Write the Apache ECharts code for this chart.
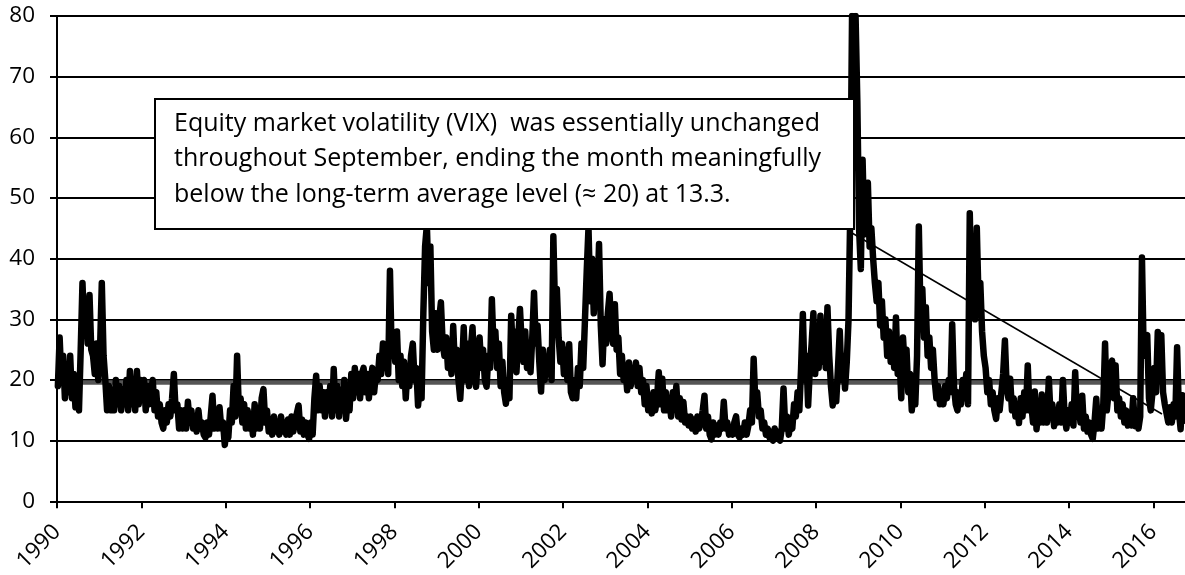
<!DOCTYPE html>
<html>
<head>
<meta charset="utf-8">
<script src="https://cdn.jsdelivr.net/npm/echarts@6/dist/echarts.min.js"></script>
<style>
  html, body { margin: 0; padding: 0; background: #fff; }
  #chart { width: 1185px; height: 575px; }
</style>
</head>
<body>
<div id="chart"></div>
<script>
// VIX: 24 readings per year (half-month steps)
const years = [1990,1991,1992,1993,1994,1995,1996,1997,1998,1999,2000,2001,2002,2003,2004,2005,2006,2007,2008,2009,2010,2011,2012,2013,2014,2015,2016];
const v1990 = [19,27,20,24,17,22,18,24,17,21,15.5,17,15,25,36,28,33,26,34,25,24,21,26,20];
const v1991 = [25,36,24,20,15,19,15,18,15,20,16,19,15,18,16,20,15,21.5,16,19,15,21.5,16,20];
const v1992 = [17,20,15,19,16,18,20,15,18,14,16,13,12,15,13,16,14,17,21,15,16,12,15,12];
const v1993 = [15,12,16.4,13,15,12,14,11.5,15,12,13,11,10.5,13,11,14,17.4,12,15,12,15.5,12,13,9.3];
const v1994 = [12,10.5,15,13,19,14,24,15,17,13,16,12,15,12,14,11,16,12,14,12,17,18.5,13,15];
const v1995 = [11.5,13.5,11,14,11.5,13,11,14,11.5,13,11,13.5,11,14,11.5,13,14.5,15.8,11.5,13.5,11,13,11,10.3];
const v1996 = [13,11,17,20.7,15,19,15,18,14,18,15,19,14,21.8,15,19,14,18,15,20,13.6,17,15,21];
const v1997 = [17,22,18,21,17,21,22,18,21,17,20,22,18,21,20,24,21,26,22,25,21,38,24,27];
const v1998 = [23,28,20,24,19,23,17,22,19,24,26,20,22,15.8,19,17,31,42,45.5,36,42,28,25,31];
const v1999 = [25,30,32.8,26,24,27,22,26,21,28.9,22,25,20,16.9,22,28.7,20,26,19,25,28.7,21,18.9,24];
const v2000 = [27,22,25,20,18.9,24,22,33.3,25,28,22,26,19,23,18,16.1,20,17,30.6,24,28,21.3,27,31.7];
const v2001 = [26,23,28,22,26,21.3,27,34.4,26,29,23,18.1,25,20,23,21,25,20,43.7,31,35,27,23,26];
const v2002 = [21,25,20,25.9,18,17,20,17,22,19,26,22,30,38,45.1,33,40,31,37,33,42.4,29,22.6,30];
const v2003 = [26,31,34.2,28,26,32.5,25,27,21,24,20,22,18.3,22.9,19,22,20,22.9,19,22,18,20,16,19];
const v2004 = [15,17,14.5,18,15,17,21.3,16,20.2,15,18,15,17,14,18,16,19,14,17,13.5,16.4,13,14,12.5];
const v2005 = [14,12,13.5,11.5,14,12,13,15,17.4,12,14,11,10.2,13,11,12.5,11,13,12,16.4,12,13,11,12];
const v2006 = [11,13,14,11,10.5,12,11,13,11,12.5,15,13,23.5,16,18,14,15,12,13,11,12,10.5,11.5,10];
const v2007 = [12,10.5,11.5,10,12,18.6,12,14,11,13,12,16,14,18,15,22,30.9,20,24,15.8,22,26,31,21];
const v2008 = [26,22,30.6,23,28,22,32,24,19,15.8,19,16.5,22,28.1,20,24,18.6,23,30,48,80,60,80,66];
const v2009 = [45,38.3,56.3,44,50,52.5,42,45,40,36,33,36,29,33,27,30,24,28,23,26,22,30.3,21,24];
const v2010 = [17,27,22,25,18,21,15,18,16,24,45.3,30,35,27,32,24,27,22,25,20,17,19,16,18];
const v2011 = [16,19,17,20,18,29.2,19,16,15,18,16,20,17,21,16,47.5,33,40,30,45.1,33,36,28,24];
const v2012 = [22,18,20,16,18,15,13.6,17,15,18,21,26.5,19,17,20.2,15,17,14,16,12.9,17,14,18,15];
const v2013 = [22.4,15,16,13,18.1,11.9,15,13,17.6,13,15,13,20.2,14,16,12.4,15,13,16,13,20,14,12,15];
const v2014 = [13,16,12.5,21.3,14,16,13,17.4,12,14,11.5,13,11,10.3,13,16.9,12,14,12,16,26,15,18,22];
const v2015 = [23.2,17,22.4,15,17,14,16,13,15,12.5,14,12.5,17,12.4,14,12,14,40.2,24,27,27.4,17,15,18];
const v2016 = [22,18,27.9,21,27.4,18,16,14.5,13,15.5,13,16,14,25.4,15,11.9,17.5,13.3];
const yearValues = [v1990,v1991,v1992,v1993,v1994,v1995,v1996,v1997,v1998,v1999,v2000,v2001,v2002,v2003,v2004,v2005,v2006,v2007,v2008,v2009,v2010,v2011,v2012,v2013,v2014,v2015,v2016];
const stepsPerYear = 24;

const longTermAverage = 19.6;
const xStart = 1990, xEnd = 2016.75;
const annotationLines = [
  'Equity market volatility (VIX)  was essentially unchanged',
  'throughout September, ending the month meaningfully',
  'below the long-term average level (\u2248 20) at 13.3.'
];

const vixData = [];
yearValues.forEach((arr, k) => {
  arr.forEach((v, i) => vixData.push([years[k] + (i + 0.5) / stepsPerYear, v]));
});

const FONT = '"Open Sans", "Noto Sans", sans-serif';
const chart = echarts.init(document.getElementById('chart'), null, { renderer: 'canvas' });
chart.setOption({
  animation: false,
  backgroundColor: '#fff',
  grid: { left: 57, right: 0, top: 16, bottom: 72, containLabel: false },
  xAxis: {
    type: 'value', min: xStart, max: xEnd, interval: 2,
    axisLine: { show: true, onZero: false, lineStyle: { color: '#000', width: 2 } },
    axisTick: { show: true, length: 7, lineStyle: { color: '#000', width: 2 } },
    axisLabel: { rotate: 45, fontSize: 22.5, color: '#000', fontFamily: FONT, margin: 27,
      showMaxLabel: false, showMinLabel: true, formatter: v => String(Math.round(v)) },
    splitLine: { show: false }
  },
  yAxis: {
    type: 'value', min: 0, max: 80, interval: 10,
    axisLine: { show: true, lineStyle: { color: '#000', width: 2 } },
    axisTick: { show: true, length: 7, lineStyle: { color: '#000', width: 2 } },
    axisLabel: { fontSize: 22.5, color: '#000', fontFamily: FONT, margin: 22 },
    splitLine: { show: true, lineStyle: { color: '#000', width: 2 } }
  },
  series: [
    {
      type: 'line', name: 'average', z: 2, symbol: 'none', silent: true,
      data: [[xStart, longTermAverage], [xEnd, longTermAverage]],
      lineStyle: { color: '#555', width: 4.5 }
    },
    {
      type: 'line', name: 'VIX', z: 3, symbol: 'none', sampling: null,
      data: vixData,
      lineStyle: { color: '#000', width: 6.5, join: 'round', cap: 'round' }
    }
  ],
  graphic: [
    { type: 'rect', z: 100, shape: { x: 155, y: 99, width: 699, height: 130 },
      style: { fill: '#fff', stroke: '#000', lineWidth: 2 } },
    { type: 'text', z: 101, x: 174, y: 106,
      style: { text: annotationLines.join('\n'), fill: '#000', fontSize: 25, fontFamily: FONT,
        lineHeight: 35.5, align: 'left', verticalAlign: 'top' } },
    { type: 'line', z: 101, shape: { x1: 852, y1: 233, x2: 1162, y2: 414 },
      style: { stroke: '#000', lineWidth: 1.5 } }
  ]
});
</script>
</body>
</html>
